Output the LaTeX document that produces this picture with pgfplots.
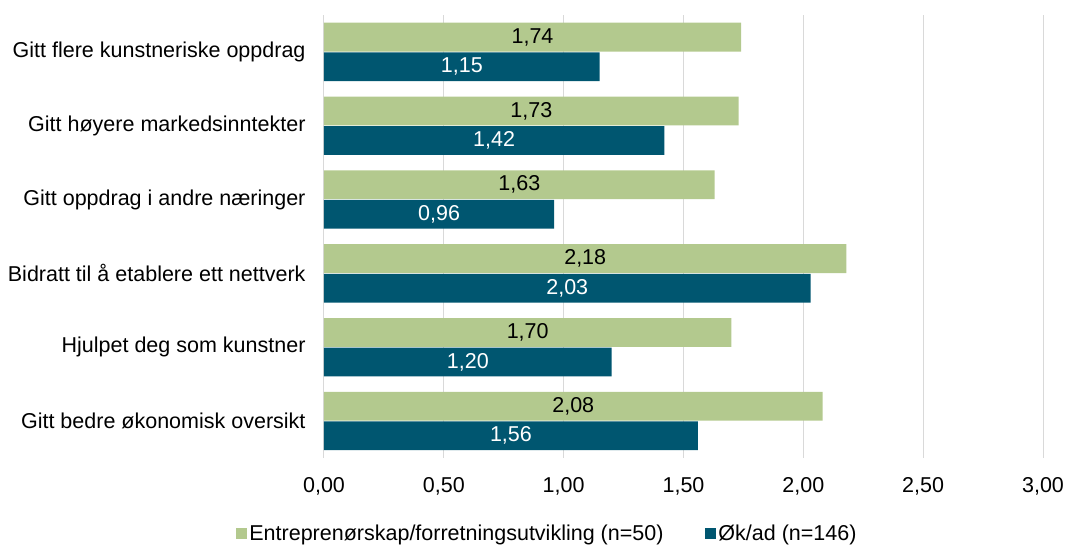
\documentclass[border=0pt]{standalone}
\usepackage{pgfplots}
\pgfplotsset{compat=1.18}
\usepackage{fontspec}
\setmainfont{Liberation Sans}
\definecolor{cgreen}{RGB}{179,201,142}
\definecolor{cblue}{RGB}{0,86,112}
\definecolor{cgrid}{RGB}{217,217,217}
\newcommand{\fs}{\fontsize{21.5}{25}\selectfont}
\begin{document}
\begin{tikzpicture}
\useasboundingbox (-324pt,-87pt) rectangle (743pt,458pt);
\begin{axis}[
  x=239.667pt, y=73.833pt,
  xmin=0, xmax=3, ymin=-0.5, ymax=5.5,
  xbar, bar width=0.39,
  xtick={0,0.5,1,1.5,2,2.5,3},
  ytick={0,1,2,3,4,5},
  yticklabels={Gitt bedre økonomisk oversikt, Hjulpet deg som kunstner, Bidratt til å etablere ett nettverk, Gitt oppdrag i andre næringer, Gitt høyere markedsinntekter, Gitt flere kunstneriske oppdrag},
  xmajorgrids, grid style={cgrid, line width=1pt},
  axis line style={draw=none}, major tick length=0pt,
  tick label style={font=\fs},
  yticklabel style={xshift=-15pt},
  xticklabel style={yshift=-16pt},
  /pgf/number format/.cd, fixed, fixed zerofill, precision=2, use comma, assume math mode=true,
  /pgfplots/.cd,
  visualization depends on=rawx \as \rawx,
  nodes near coords,
  every node near coord/.append style={anchor=center, font=\fs, xshift={-119.833pt*\rawx}},
  legend columns=2,
  legend style={at={(0.3108,-0.171)}, anchor=center, draw=none, font=\fs,
    /tikz/every even column/.append style={column sep=40pt}},
  legend image code/.code={\fill[#1] (2pt,-5.5pt) rectangle (13pt,5.5pt);},
]
\addplot[fill=cgreen, draw=none, bar shift=0.2, every node near coord/.append style={text=black}] coordinates {
  (2.08,0) (1.70,1) (2.18,2) (1.63,3) (1.73,4) (1.74,5)};
\addlegendentry{Entreprenørskap/forretningsutvikling (n=50)}
\addplot[fill=cblue, draw=none, bar shift=-0.2, every node near coord/.append style={text=white}] coordinates {
  (1.56,0) (1.20,1) (2.03,2) (0.96,3) (1.42,4) (1.15,5)};
\addlegendentry{Øk/ad (n=146)}
\end{axis}
\end{tikzpicture}
\end{document}
